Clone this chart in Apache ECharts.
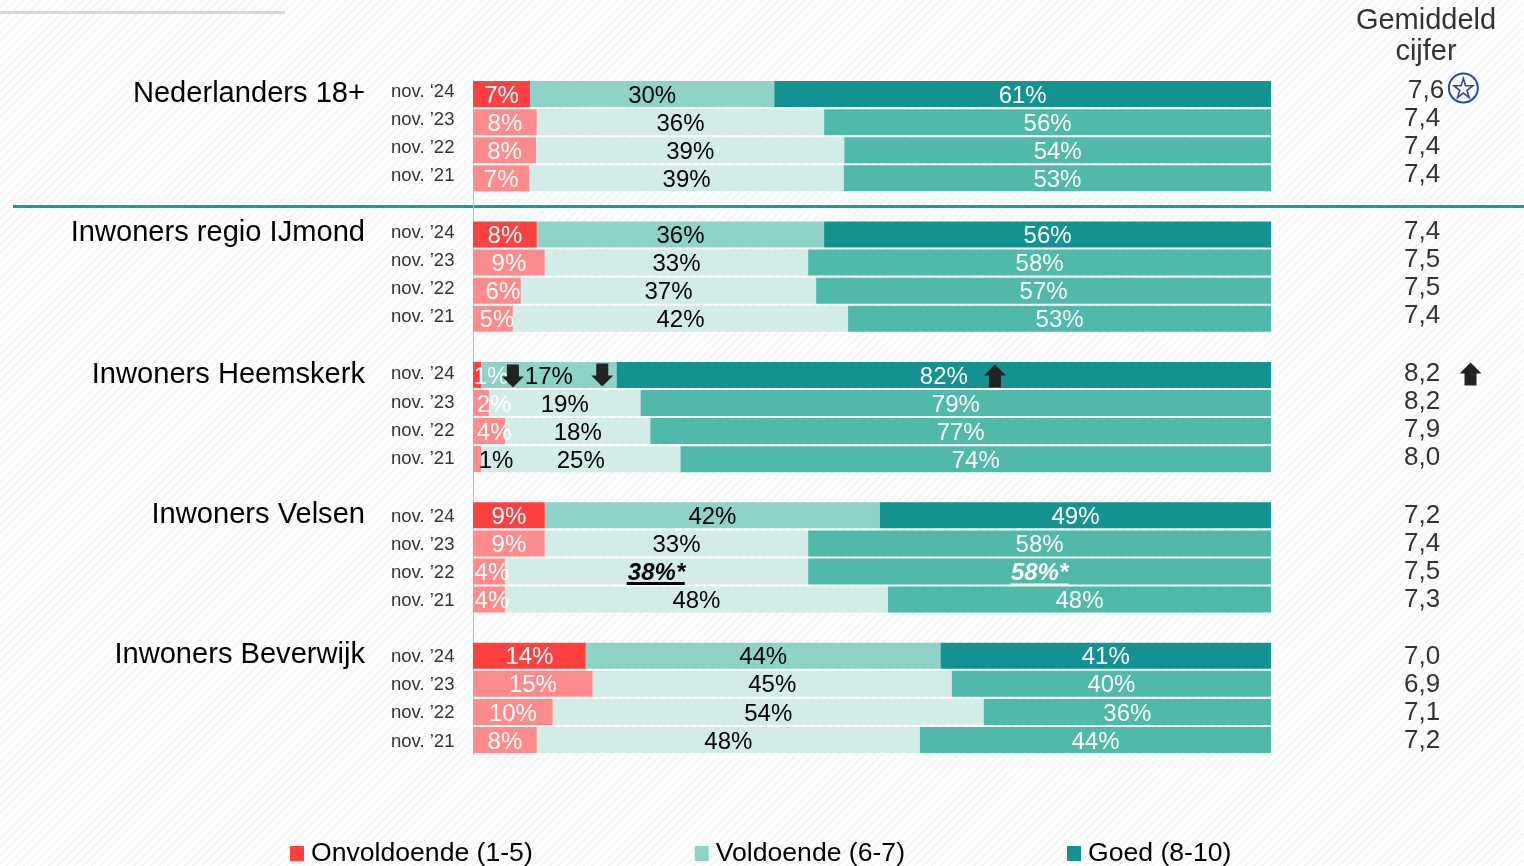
<!DOCTYPE html>
<html><head><meta charset="utf-8">
<style>
html,body{margin:0;padding:0;width:1524px;height:866px;overflow:hidden;
background:#fff repeating-linear-gradient(135deg,#fff 0,#fff 4px,#f6f6f6 4px,#f6f6f6 6px);}
#c{width:1524px;height:866px;}
</style>
<script src="https://cdn.jsdelivr.net/npm/echarts@6/dist/echarts.min.js"></script>
</head><body><div id="c"></div>
<script>
const groupNames = ['Nederlanders 18+','Inwoners regio IJmond','Inwoners Heemskerk','Inwoners Velsen','Inwoners Beverwijk'];
const periods = ['nov. ’24','nov. ’23','nov. ’22','nov. ’21'];
const firstPeriod = 'nov. ‘24';
const onvoldoende = [[7,8,8,7],[8,9,6,5],[1,2,4,1],[9,9,4,4],[14,15,10,8]];
const voldoende   = [[30,36,39,39],[36,33,37,42],[17,19,18,25],[42,33,38,48],[44,45,54,48]];
const goed        = [[61,56,54,53],[56,58,57,53],[82,79,77,74],[49,58,58,48],[41,40,36,44]];
const cijfer      = [['7,6','7,4','7,4','7,4'],['7,4','7,5','7,5','7,4'],['8,2','8,2','7,9','8,0'],['7,2','7,4','7,5','7,3'],['7,0','6,9','7,1','7,2']];
const seriesNames = ['Onvoldoende (1-5)','Voldoende (6-7)','Goed (8-10)'];

const FONT = '"Liberation Sans", Arial, sans-serif';
const strong = ['#FF4040','#8FD3C8','#149292'];
const soft   = ['#FF8C8C','#D2ECE8','#50B9AA'];
const labelColors = ['#fff','#000','#fff'];
const redNudge = {7:6,8:4,10:14,11:13,12:5,13:19,17:3,18:3};
const tickShift = [2,1.5,0.5,-1.5,-1.5];
const avgShift  = [3.5,3,1.5,-0.5,-1];
const groupShift = [0,1,0,0,1];

const tickCat=[], avgCat=[], groupCat=[];
const rows=[];
groupNames.forEach((g,gi)=>{
  periods.forEach((p,pi)=>{
    const idx=gi*5+pi;
    tickCat[idx]={value:'{t'+gi+'|'+(gi===0&&pi===0?firstPeriod:p)+'}'};
    avgCat[idx]={value:(gi===0&&pi===0?'{s|':'{a'+gi+'|')+cijfer[gi][pi]+'}'};
    groupCat[idx]={value:pi===0?'{g'+gi+'|'+g+'}':''};
    rows[idx]={gi,pi};
  });
  if(gi<groupNames.length-1){const idx=gi*5+4;tickCat[idx]={value:''};avgCat[idx]={value:''};groupCat[idx]={value:''};rows[idx]=null;}
});

const sources=[onvoldoende,voldoende,goed];
function seriesData(si){
  return rows.map((r,idx)=>{
    if(!r) return {value:'-'};
    const raw=sources[si][r.gi][r.pi];
    const sum=onvoldoende[r.gi][r.pi]+voldoende[r.gi][r.pi]+goed[r.gi][r.pi];
    const text=raw+'%';
    const label={show:true,position:'inside',formatter:text,color:labelColors[si],fontSize:24,fontFamily:FONT,offset:[0,2]};
    if(si===0&&redNudge[idx]) label.offset=[redNudge[idx],2];
    if(si===0&&idx===13) label.color='#000';
    if(si>0&&idx===17){label.formatter=text+'*';label.fontWeight='bold';label.fontStyle='italic';}
    return {value:raw/sum*100,itemStyle:{color:r.pi===0?strong[si]:soft[si]},label};
  });
}

const upPath='path://M11,0L22,11L17,11L17,23L5,23L5,11L0,11Z';
const downPath='path://M5,0L17,0L17,12L22,12L11,23L0,12L5,12Z';
const starPath='path://M50,5L61,39L97,39L68,61L79,95L50,74L21,95L32,61L3,39L39,39Z';
const annotations=[
 {coord:[5,10],symbol:downPath,symbolSize:[22,23],symbolOffset:[0,1]},
 {coord:[16.2,10],symbol:downPath,symbolSize:[22,23],symbolOffset:[0,0]},
 {coord:[65.4,10],symbol:upPath,symbolSize:[22,23],symbolOffset:[0,1]},
 {coord:[125,10],symbol:upPath,symbolSize:[22,23],symbolOffset:[0,-1]},
 {coord:[22.9,17],symbol:'rect',symbolSize:[58,3],symbolOffset:[0,12],itemStyle:{color:'#000'}},
 {coord:[71,17],symbol:'rect',symbolSize:[58,2],symbolOffset:[0,13],itemStyle:{color:'#fff'}},
 {coord:[124.1,0],symbol:'circle',symbolSize:29,symbolOffset:[0,-6],itemStyle:{color:'rgba(0,0,0,0)',borderColor:'#2B4A9E',borderWidth:2}},
 {coord:[124.1,0],symbol:starPath,symbolSize:19,symbolOffset:[0,-6],itemStyle:{color:'rgba(0,0,0,0)',borderColor:'#2B4A9E',borderWidth:1.6}}
];

function pad(s,left){return [s<0?-2*s:0,0,s>0?2*s:0,left||0];}
const tickRich={},avgRich={},groupRich={};
tickShift.forEach((s,i)=>{tickRich['t'+i]={fontSize:18.5,fontFamily:FONT,color:'#333',padding:pad(s)};});
avgShift.forEach((s,i)=>{avgRich['a'+i]={fontSize:26,fontFamily:FONT,color:'#333',padding:pad(s)};});
avgRich.s={fontSize:26,fontFamily:FONT,color:'#333',padding:pad(avgShift[0],4)};
groupShift.forEach((s,i)=>{groupRich['g'+i]={fontSize:29.1,fontFamily:FONT,color:'#000',padding:pad(s)};});

const baseY={type:'category',inverse:true,axisTick:{show:false},splitLine:{show:false}};
const chart=echarts.init(document.getElementById('c'),null,{renderer:'canvas'});
chart.setOption({
  animation:false,
  backgroundColor:'transparent',
  title:{text:'Gemiddeld\ncijfer',left:1421,top:0,textAlign:'center',
    textStyle:{fontSize:29,fontWeight:'normal',fontFamily:FONT,color:'#333',lineHeight:31}},
  legend:{left:285,top:835,itemGap:162,itemWidth:14,itemHeight:15,icon:'rect',data:seriesNames,selectedMode:false,
    textStyle:{fontSize:26.6,fontFamily:FONT,color:'#000',padding:[0,0,0,2]}},
  grid:{left:473,top:80,width:1051,height:674,containLabel:false},
  xAxis:{type:'value',min:0,max:131.7,show:false},
  yAxis:[
    Object.assign({},baseY,{position:'left',data:tickCat,
      axisLine:{show:true,onZero:false,lineStyle:{color:'#bfbfbf',width:1}},
      axisLabel:{interval:0,align:'left',margin:82,hideOverlap:false,rich:tickRich}}),
    Object.assign({},baseY,{position:'right',offset:-120,data:avgCat,axisLine:{show:false},
      axisLabel:{interval:0,align:'left',margin:0,hideOverlap:false,rich:avgRich}}),
    Object.assign({},baseY,{position:'left',data:groupCat,axisLine:{show:false},
      axisLabel:{interval:0,align:'right',margin:108,hideOverlap:false,rich:groupRich}})
  ],
  series:seriesNames.map((n,si)=>({
    name:n,type:'bar',stack:'total',barWidth:26,
    itemStyle:{color:strong[si]},
    data:seriesData(si),
    markPoint:si===2?{silent:true,label:{show:false},itemStyle:{color:'#222'},data:annotations}:undefined
  })),
  graphic:[
    {type:'rect',left:0,top:11,shape:{width:285,height:3},style:{fill:'#d9d9d9'},silent:true},
    {type:'rect',left:13,top:205,shape:{width:1511,height:3},style:{fill:'#1F9A92'},silent:true}
  ]
});
</script></body></html>
